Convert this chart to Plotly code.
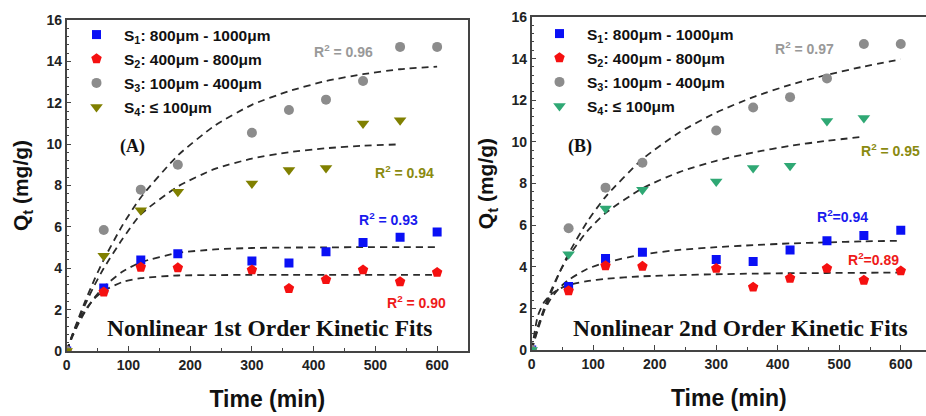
import plotly.graph_objects as go

# ---------------- data ----------------
time = [0, 60, 120, 180, 300, 360, 420, 480, 540, 600]
s1 = [0, 3.05, 4.40, 4.70, 4.35, 4.25, 4.80, 5.25, 5.50, 5.75]
s2 = [0, 2.85, 4.05, 4.02, 3.92, 3.02, 3.45, 3.92, 3.35, 3.80]
s3 = [0, 5.85, 7.80, 9.00, 10.55, 11.65, 12.15, 13.05, 14.70, 14.70]
time4 = [0, 60, 120, 180, 300, 360, 420, 480, 540]
s4 = [0, 4.60, 6.80, 7.70, 8.10, 8.75, 8.85, 11.00, 11.15]

fit_t = [0, 10, 20, 30, 45, 60, 90, 120, 180, 240, 300, 360, 420, 480, 540, 600]
fit_t4 = fit_t[:-1]
# 1st order fits (panel A)
fit1_s1 = [0, 0.74, 1.38, 1.91, 2.58, 3.10, 3.83, 4.29, 4.74, 4.91, 4.98, 5.00, 5.01, 5.02, 5.02, 5.02]
fit1_s2 = [0, 0.84, 1.49, 1.99, 2.54, 2.91, 3.33, 3.52, 3.65, 3.67, 3.68, 3.68, 3.68, 3.68, 3.68, 3.68]
fit1_s3 = [0, 0.86, 1.65, 2.41, 3.46, 4.41, 6.06, 7.42, 9.45, 10.90, 11.90, 12.56, 13.05, 13.38, 13.62, 13.75]
fit1_s4 = [0, 0.81, 1.56, 2.25, 3.18, 4.00, 5.40, 6.60, 7.95, 8.80, 9.30, 9.61, 9.80, 9.92, 9.99]
# 2nd order fits (panel B)
fit2_s1 = [0, 1.13, 1.88, 2.41, 2.98, 3.37, 3.89, 4.20, 4.59, 4.81, 4.94, 5.04, 5.12, 5.17, 5.22, 5.25]
fit2_s2 = [0, 1.64, 2.29, 2.64, 2.94, 3.12, 3.31, 3.42, 3.54, 3.60, 3.64, 3.67, 3.69, 3.70, 3.71, 3.72]
fit2_s3 = [0, 0.98, 1.86, 2.65, 3.71, 4.63, 6.15, 7.36, 9.17, 10.45, 11.41, 12.15, 12.74, 13.22, 13.62, 13.97]
fit2_s4 = [0, 1.08, 1.99, 2.76, 3.72, 4.50, 5.70, 6.58, 7.77, 8.55, 9.09, 9.49, 9.81, 10.05, 10.25]

legend_names = ["S<sub>1</sub>: 800μm - 1000μm", "S<sub>2</sub>: 400μm - 800μm",
                "S<sub>3</sub>: 100μm - 400μm", "S<sub>4</sub>: ≤ 100μm"]

# ---------------- styling ----------------
SANS = "Liberation Sans, Arial, sans-serif"
SERIF = "Liberation Serif, Times New Roman, serif"
BLUE, RED, GREY = "#0a10f5", "#f51010", "#8c8c8c"
OLIVE, GREEN = "#808000", "#2fa874"

fig = go.Figure()

def add_panel(xa, ya, leg, fits, s4color):
    for ft, fv in fits:
        fig.add_trace(go.Scatter(x=ft, y=fv, mode="lines", xaxis=xa, yaxis=ya,
                                 line=dict(color="#2b2b2b", width=1.8, dash="7px,5px", shape="spline", smoothing=0.6),
                                 showlegend=False, hoverinfo="skip"))
    specs = [(time, s1, "square", BLUE, 9), (time, s2, "pentagon", RED, 11),
             (time, s3, "circle", GREY, 10), (time4, s4, "triangle-down", s4color, 11)]
    for i, ((tx, ty, sym, col, sz), name) in enumerate(zip(specs, legend_names)):
        fig.add_trace(go.Scatter(x=tx, y=ty, mode="markers", name=name, xaxis=xa, yaxis=ya,
                                 legend=leg, legendgroup=f"{leg}_{i}",
                                 marker=dict(symbol=sym, color=col, size=sz, line=dict(width=0))))

add_panel("x", "y", "legend",
          [(fit_t, fit1_s3), (fit_t4, fit1_s4), (fit_t, fit1_s1), (fit_t, fit1_s2)], OLIVE)
add_panel("x2", "y2", "legend2",
          [(fit_t, fit2_s3), (fit_t4, fit2_s4), (fit_t, fit2_s1), (fit_t, fit2_s2)], GREEN)

W, H = 926, 416

def xaxis_cfg(domain, rng, mirror=True):
    return dict(domain=domain, range=rng, showline=True, linecolor="#444", linewidth=1.5,
                mirror=mirror, ticks="inside", ticklen=5, tickwidth=1.3, tickcolor="#444",
                tickvals=[0, 100, 200, 300, 400, 500, 600],
                minor=dict(ticks="inside", ticklen=3, tickcolor="#444", dtick=50, tick0=0),
                showgrid=False, zeroline=False,
                tickfont=dict(family=SANS, size=14, color="#222", weight="bold"),
                title=dict(text="<b>Time (min)</b>", font=dict(family=SANS, size=23, color="#111"), standoff=19),
                automargin=False)

def yaxis_cfg(domain, anchor, mirror=True):
    return dict(domain=domain, range=[0, 16], anchor=anchor, showline=True, linecolor="#444", linewidth=1.5,
                mirror=mirror, ticks="inside", ticklen=5, tickwidth=1.3, tickcolor="#444",
                tickvals=[0, 2, 4, 6, 8, 10, 12, 14, 16],
                minor=dict(ticks="inside", ticklen=3, tickcolor="#444", dtick=0.4, tick0=0),
                showgrid=False, zeroline=False,
                tickfont=dict(family=SANS, size=14, color="#222", weight="bold"),
                title=dict(text="<b>Q<sub>t</sub> (mg/g)</b>", font=dict(family=SANS, size=21, color="#111"), standoff=12),
                automargin=False)

legfont = dict(family=SANS, size=15.5, color="#111", weight="bold")
fig.update_layout(
    width=W, height=H, margin=dict(l=0, r=0, t=0, b=0),
    paper_bgcolor="white", plot_bgcolor="white",
    xaxis=xaxis_cfg([66.7 / W, 468 / W], [0, 650]) | dict(anchor="y"),
    yaxis=yaxis_cfg([65 / H, 396 / H], "x"),
    xaxis2=xaxis_cfg([531.7 / W, 1.0], [0, 641]) | dict(anchor="y2"),
    yaxis2=yaxis_cfg([66 / H, 399 / H], "x2", mirror=False),
    legend=dict(x=69 / W, y=1 - 18 / H, xanchor="left", yanchor="top", bgcolor="rgba(0,0,0,0)",
                font=legfont, itemwidth=45, tracegroupgap=1),
    legend2=dict(x=532 / W, y=1 - 17 / H, xanchor="left", yanchor="top", bgcolor="rgba(0,0,0,0)",
                 font=legfont, itemwidth=45, tracegroupgap=1),
    showlegend=True,
)

def ann(x, y, text, xref, yref, color, size=14, family=SANS, bold=True):
    fig.add_annotation(x=x, y=y, xref=xref, yref=yref, text=(f"<b>{text}</b>" if bold else text),
                       showarrow=False, font=dict(family=family, size=size, color=color),
                       xanchor="center", yanchor="middle")

# Panel A annotations
ann(448, 14.5, "R<sup>2</sup> = 0.96", "x", "y", "#999999")
ann(547, 8.64, "R<sup>2</sup> = 0.94", "x", "y", "#8a8a10")
ann(521, 6.36, "R<sup>2</sup> = 0.93", "x", "y", "#1a1aee")
ann(566, 2.38, "R<sup>2</sup> = 0.90", "x", "y", "#ee1a1a")
ann(106, 9.9, "(A)", "x", "y", "#111", size=18, family=SERIF)
ann(330, 1.12, "Nonlinear 1st Order Kinetic Fits", "x", "y", "#111", size=23.5, family=SERIF)

# Panel B annotations
ann(444, 14.52, "R<sup>2</sup> = 0.97", "x2", "y2", "#999999")
ann(584, 9.62, "R<sup>2</sup> = 0.95", "x2", "y2", "#8a8a10")
ann(506, 6.44, "R<sup>2</sup>=0.94", "x2", "y2", "#1a1aee")
ann(555, 4.38, "R<sup>2</sup>=0.89", "x2", "y2", "#ee1a1a")
ann(78.5, 9.76, "(B)", "x2", "y2", "#111", size=18, family=SERIF)
ann(339, 1.06, "Nonlinear 2nd Order Kinetic Fits", "x2", "y2", "#111", size=23.5, family=SERIF)

fig.write_html("out.html")
